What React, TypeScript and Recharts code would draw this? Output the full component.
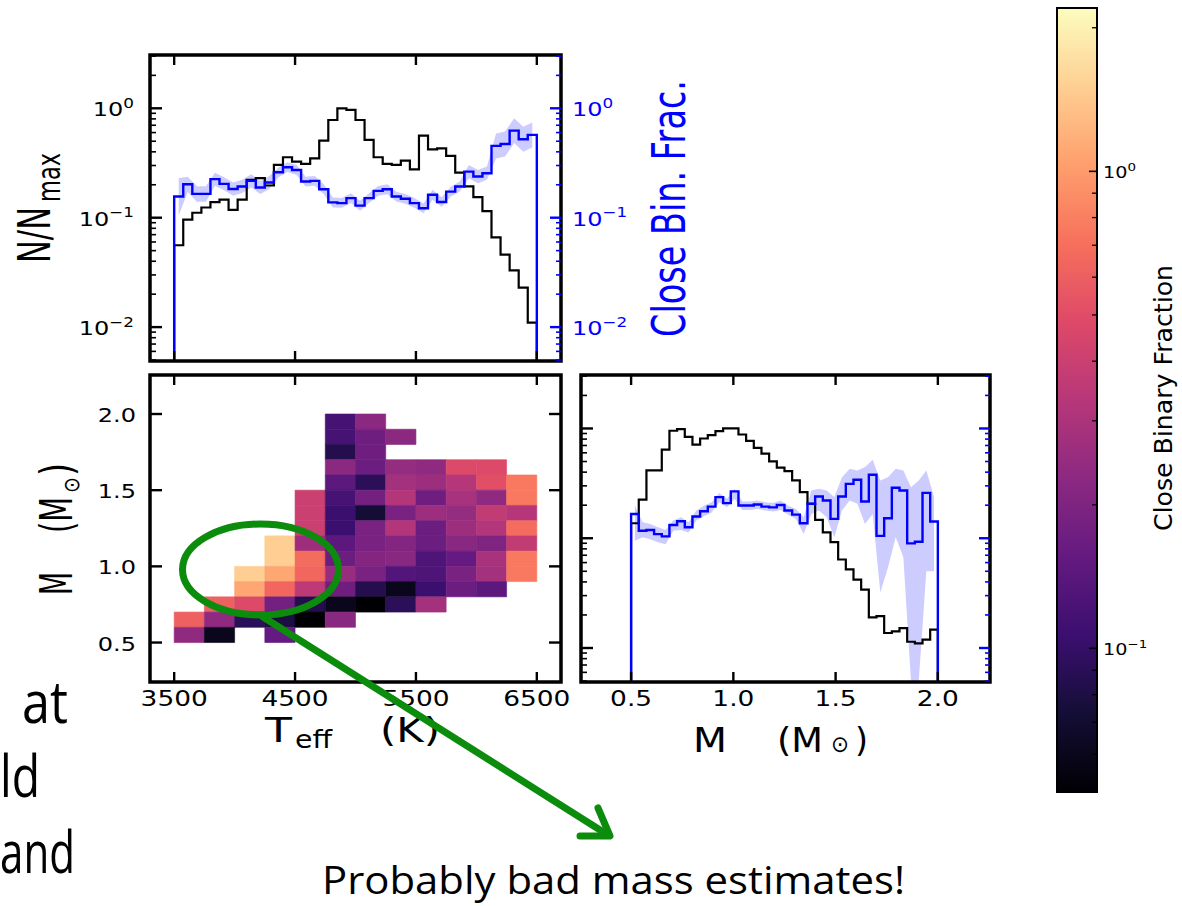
import React from "react";
import { ComposedChart, Line, Area, XAxis, YAxis, ReferenceArea } from "recharts";

const TICK_FONT = "'DejaVu Sans', 'Liberation Sans', sans-serif";
const SLIDE_FONT = "'Open Sans', 'Noto Sans', sans-serif";
const BLUE = "#0000ff";
const GREEN = "#0c8c0c";
const SX = 1.2; // the figure is stretched horizontally

// ---- top panel: Teff histogram, 40 bins of 75 K ----
const teffEdges = Array.from({ length: 41 }, (_, i) => 3500 + 75 * i);
const teffCentres = teffEdges.slice(0, 40).map((e) => e + 37.5);
const nTeff = [
  0.056, 0.096, 0.111, 0.124, 0.139, 0.146, 0.118, 0.146, 0.222, 0.23,
  0.197, 0.304, 0.357, 0.326, 0.31, 0.349, 0.507, 0.782, 1.0, 0.966,
  0.782, 0.514, 0.357, 0.31, 0.304, 0.333, 0.277, 0.563, 0.422, 0.431,
  0.367, 0.258, 0.193, 0.154, 0.115, 0.066, 0.046, 0.033, 0.023, 0.011,
];
const fTeff = [
  0.156, 0.202, 0.165, 0.165, 0.225, 0.204, 0.183, 0.193, 0.217, 0.189,
  0.21, 0.26, 0.289, 0.273, 0.214, 0.217, 0.182, 0.138, 0.136, 0.151,
  0.129, 0.151, 0.176, 0.182, 0.156, 0.149, 0.136, 0.122, 0.162, 0.139,
  0.173, 0.193, 0.264, 0.238, 0.255, 0.453, 0.472, 0.625, 0.521, 0.571,
];
const fTeffLo = [
  0.105, 0.172, 0.14, 0.14, 0.196, 0.178, 0.159, 0.168, 0.189, 0.165,
  0.183, 0.234, 0.261, 0.246, 0.193, 0.196, 0.164, 0.124, 0.123, 0.136,
  0.116, 0.136, 0.159, 0.164, 0.141, 0.134, 0.123, 0.11, 0.146, 0.125,
  0.156, 0.174, 0.23, 0.207, 0.222, 0.348, 0.363, 0.481, 0.401, 0.439,
];
const fTeffHi = [
  0.231, 0.237, 0.194, 0.194, 0.258, 0.234, 0.21, 0.222, 0.249, 0.217,
  0.241, 0.288, 0.321, 0.303, 0.237, 0.241, 0.202, 0.153, 0.151, 0.167,
  0.143, 0.167, 0.195, 0.202, 0.173, 0.165, 0.151, 0.135, 0.18, 0.154,
  0.192, 0.214, 0.303, 0.273, 0.293, 0.589, 0.614, 0.813, 0.677, 0.742,
];

// ---- right panel: mass histogram, 40 bins of 0.0375 Msun ----
const massEdges = Array.from({ length: 41 }, (_, i) => 0.5 + 0.0375 * i);
const massCentres = massEdges.slice(0, 40).map((e) => e + 0.01875);
const nMass = [
  0.137, 0.225, 0.415, 0.415, 0.642, 0.953, 0.986, 0.839, 0.713, 0.81,
  0.869, 0.946, 1.0, 1.0, 0.881, 0.771, 0.665, 0.59, 0.502, 0.439,
  0.409, 0.336, 0.263, 0.206, 0.147, 0.113, 0.092, 0.064, 0.052, 0.042,
  0.034, 0.019, 0.0195, 0.0137, 0.0142, 0.0152, 0.0114, 0.011, 0.0119, 0.0147,
];
const fMass = [
  0.166, 0.117, 0.119, 0.109, 0.104, 0.132, 0.143, 0.126, 0.158, 0.176,
  0.194, 0.237, 0.209, 0.267, 0.199, 0.199, 0.203, 0.194, 0.191, 0.201,
  0.179, 0.164, 0.137, 0.206, 0.24, 0.221, 0.15, 0.24, 0.313, 0.341,
  0.216, 0.379, 0.105, 0.152, 0.288, 0.272, 0.0897, 0.093, 0.259, 0.142,
];
const fMassLo = [
  0.095, 0.102, 0.098, 0.092, 0.088, 0.117, 0.119, 0.113, 0.145, 0.159,
  0.172, 0.213, 0.192, 0.229, 0.181, 0.181, 0.185, 0.179, 0.175, 0.181,
  0.164, 0.15, 0.109, 0.166, 0.179, 0.155, 0.102, 0.179, 0.221, 0.206,
  0.135, 0.166, 0.032, 0.054, 0.102, 0.067, 0.0049, 0.0049, 0.05, 0.05,
];
const fMassHi = [
  0.198, 0.14, 0.135, 0.126, 0.119, 0.145, 0.155, 0.14, 0.179, 0.198,
  0.213, 0.258, 0.229, 0.282, 0.216, 0.216, 0.221, 0.213, 0.209, 0.221,
  0.198, 0.185, 0.155, 0.272, 0.282, 0.272, 0.237, 0.36, 0.43, 0.415,
  0.445, 0.52, 0.336, 0.36, 0.43, 0.415, 0.292, 0.336, 0.415, 0.237,
];

// ---- heatmap: close binary fraction per (Teff, M) cell ----
const gridTeff = [3500, 3750, 4000, 4250, 4500, 4750, 5000, 5250, 5500, 5750, 6000, 6250, 6500];
const gridMass = [2.0, 1.9, 1.8, 1.7, 1.6, 1.5, 1.4, 1.3, 1.2, 1.1, 1.0, 0.9, 0.8, 0.7, 0.6, 0.5];
const _ = null;
const cbf: (number | null)[][] = [
  [_, _, _, _, _, 0.118, 0.226, _, _, _, _, _],
  [_, _, _, _, _, 0.118, 0.173, 0.226, _, _, _, _],
  [_, _, _, _, _, 0.085, 0.173, _, _, _, _, _],
  [_, _, _, _, _, 0.226, 0.167, 0.244, 0.235, 0.48, 0.48, _],
  [_, _, _, _, _, 0.144, 0.092, 0.28, 0.263, 0.33, 0.51, 0.76],
  [_, _, _, _, 0.4, 0.118, 0.18, 0.32, 0.173, 0.29, 0.235, 0.76],
  [_, _, _, _, 0.4, 0.106, 0.073, 0.19, 0.263, 0.244, 0.37, 0.33],
  [_, _, _, _, 0.4, 0.106, 0.19, 0.32, 0.167, 0.263, 0.32, 0.68],
  [_, _, _, 1.5, 0.263, 0.144, 0.19, 0.21, 0.167, 0.22, 0.2, 0.37],
  [_, _, _, 1.5, 0.68, 0.167, 0.21, 0.22, 0.128, 0.155, 0.29, 0.76],
  [_, _, 1.5, 1.1, 0.65, 0.253, 0.19, 0.133, 0.128, 0.19, 0.28, 0.76],
  [_, _, 1.1, 0.65, 0.35, 0.173, 0.085, 0.06, 0.106, 0.167, 0.144, _],
  [_, 0.61, 0.48, 0.18, 0.085, 0.06, 0.05, 0.092, 0.28, _, _, _],
  [0.61, 0.235, 0.092, 0.078, 0.05, 0.22, _, _, _, _, _, _],
  [0.235, 0.06, _, 0.155, _, _, _, _, _, _, _, _],
];

// ---- axes ----
const teffTicks = [3500, 4500, 5500, 6500];
const massTicks = [0.5, 1.0, 1.5, 2.0];
const histLogTicks = [
  0.005, 0.006, 0.007, 0.008, 0.009, 0.01, 0.02, 0.03, 0.04, 0.05, 0.06, 0.07, 0.08, 0.09,
  0.1, 0.2, 0.3, 0.4, 0.5, 0.6, 0.7, 0.8, 0.9, 1, 2, 3,
];
const cbarTicks = [0.06, 0.07, 0.08, 0.09, 0.1, 0.2, 0.3, 0.4, 0.5, 0.6, 0.7, 0.8, 0.9, 1, 2];
const TEFF_DOMAIN: [number, number] = [3300, 6700];
const MASS_Y_DOMAIN: [number, number] = [0.241, 2.256];
const MASS_X_DOMAIN: [number, number] = [0.255, 2.255];
const FRAC_DOMAIN: [number, number] = [0.0049, 3.07];
const CBAR_DOMAIN: [number, number] = [0.05, 2.2];

const MAGMA = ["#000004", "#140e36", "#3b0f70", "#641a80", "#8c2981", "#b73779", "#de4968", "#f7705c", "#fe9f6d", "#fecf92", "#fcfdbf"];

function rgb(h: string) {
  return [1, 3, 5].map((i) => parseInt(h.slice(i, i + 2), 16));
}
function magma(t: number) {
  const c = Math.min(1, Math.max(0, t)) * (MAGMA.length - 1);
  const i = Math.min(MAGMA.length - 2, Math.floor(c));
  const f = c - i;
  const a = rgb(MAGMA[i]);
  const b = rgb(MAGMA[i + 1]);
  return `rgb(${a.map((v, k) => Math.round(v + (b[k] - v) * f)).join(",")})`;
}
function cbfColor(v: number) {
  const lo = Math.log10(CBAR_DOMAIN[0]);
  const hi = Math.log10(CBAR_DOMAIN[1]);
  return magma((Math.log10(v) - lo) / (hi - lo));
}

const isDecade = (v: number) => Math.abs(Math.log10(v) - Math.round(Math.log10(v))) < 1e-6;
const logLabel = (fs: number) => (v: number) => {
  const e = Math.round(Math.log10(v));
  return (
    <>
      <tspan>10</tspan>
      <tspan dy={-fs * 0.42} fontSize={fs * 0.7}>{e < 0 ? `\u2212${-e}` : `${e}`}</tspan>
    </>
  );
};
const fixed1 = (v: number) => v.toFixed(1);
const plain = (v: number) => `${v}`;

type Side = "left" | "right" | "top" | "bottom";
type TickCfg = {
  side: Side;
  color?: string;
  isMajor?: (v: number) => boolean;
  label?: (v: number) => React.ReactNode;
  majorLen?: number;
  minorLen?: number;
  majorWidth?: number;
  minorWidth?: number;
  fontSize?: number;
  gap?: number;
};

// ticks point into the frame, labels sit outside
function makeTick(cfg: TickCfg) {
  const {
    side, color = "#000", isMajor = () => true, label, majorLen = 10, minorLen = 5,
    majorWidth = 2.4, minorWidth = 1.6, fontSize = 20, gap = 12,
  } = cfg;
  return (props: any) => {
    const x = Number(props.x);
    const y = Number(props.y);
    const v = Number(props.payload?.value);
    const major = isMajor(v);
    const len = major ? majorLen : minorLen;
    const [dx, dy] = side === "left" ? [1, 0] : side === "right" ? [-1, 0] : side === "top" ? [0, 1] : [0, -1];
    let text = null;
    if (major && label) {
      let tx = x;
      let ty = y;
      let anchor = "middle";
      if (side === "left") { tx = x - gap; ty = y + fontSize * 0.4; anchor = "end"; }
      else if (side === "right") { tx = x + gap; ty = y + fontSize * 0.4; anchor = "start"; }
      else if (side === "bottom") { ty = y + gap; }
      else { ty = y - gap; }
      text = (
        <text transform={`translate(${tx},${ty}) scale(${SX},1)`} textAnchor={anchor} fontSize={fontSize} fontFamily={TICK_FONT} fill={color}>
          {label(v)}
        </text>
      );
    }
    return (
      <g>
        <line x1={x} y1={y} x2={x + dx * len} y2={y + dy * len} stroke={color} strokeWidth={major ? majorWidth : minorWidth} />
        {text}
      </g>
    );
  };
}

function stepPoints(edges: number[], vals: number[]) {
  const floor = FRAC_DOMAIN[0];
  const n = vals.length;
  return [
    { x: edges[0], y: floor },
    ...vals.map((v, i) => ({ x: edges[i], y: v })),
    { x: edges[n], y: vals[n - 1] },
    { x: edges[n], y: floor },
  ];
}

const axisCommon = { tickSize: 0, tickMargin: 0, tickLine: false, axisLine: false, interval: 0 as const, allowDataOverflow: true };

function Frame({ x, y }: { x: [number, number]; y: [number, number] }) {
  return <ReferenceArea x1={x[0]} x2={x[1]} y1={y[0]} y2={y[1]} fill="none" stroke="#000" strokeWidth={3.5} ifOverflow="visible" />;
}

function Hist({ edges, centres, n, f, lo, hi, xDomain, xTicks, xLabel, width, height, margin, leftW, rightW, leftLabels, rightLabels }: any) {
  const band = centres.map((x: number, i: number) => ({ x, band: [lo[i], hi[i]] }));
  return (
    <ComposedChart width={width} height={height} margin={margin}>
      <XAxis type="number" dataKey="x" domain={xDomain} ticks={xTicks} height={xLabel ? 43 : 19} {...axisCommon}
        tick={makeTick({ side: "bottom", label: xLabel, fontSize: 22, gap: 24 })} />
      <XAxis xAxisId="t" orientation="top" type="number" dataKey="x" domain={xDomain} ticks={xTicks} height={10} {...axisCommon}
        tick={makeTick({ side: "top" })} />
      <YAxis type="number" scale="log" domain={FRAC_DOMAIN} ticks={histLogTicks} width={leftW} {...axisCommon}
        tick={makeTick({ side: "left", isMajor: isDecade, label: leftLabels ? logLabel(20) : undefined, majorLen: 12, minorLen: 6, gap: 16 })} />
      <YAxis yAxisId="r" orientation="right" type="number" scale="log" domain={FRAC_DOMAIN} ticks={histLogTicks} width={rightW} {...axisCommon}
        tick={makeTick({ side: "right", color: BLUE, isMajor: isDecade, label: rightLabels ? logLabel(20) : undefined, majorLen: 11, minorLen: 5, gap: 11 })} />
      <Area data={band} dataKey="band" type="linear" fill={BLUE} fillOpacity={0.2} stroke="none" isAnimationActive={false} />
      <Line data={stepPoints(edges, n)} dataKey="y" type="stepAfter" stroke="#000" strokeWidth={2.2} dot={false} isAnimationActive={false} />
      <Line data={stepPoints(edges, f)} dataKey="y" type="stepAfter" stroke={BLUE} strokeWidth={2.4} dot={false} isAnimationActive={false} />
      <Frame x={xDomain} y={FRAC_DOMAIN} />
    </ComposedChart>
  );
}

function Heatmap() {
  const cells: { x1: number; x2: number; y1: number; y2: number; v: number }[] = [];
  cbf.forEach((row, r) =>
    row.forEach((v, c) => {
      if (v !== null) cells.push({ x1: gridTeff[c], x2: gridTeff[c + 1], y1: gridMass[r + 1], y2: gridMass[r], v });
    })
  );
  return (
    <ComposedChart width={570} height={360} margin={{ top: 0, right: 0, bottom: 0, left: 0 }}>
      <XAxis type="number" dataKey="x" domain={TEFF_DOMAIN} ticks={teffTicks} height={43} {...axisCommon}
        tick={makeTick({ side: "bottom", label: plain, fontSize: 22, gap: 24 })} />
      <XAxis xAxisId="t" orientation="top" type="number" dataKey="x" domain={TEFF_DOMAIN} ticks={teffTicks} height={10} {...axisCommon}
        tick={makeTick({ side: "top" })} />
      <YAxis type="number" domain={MASS_Y_DOMAIN} ticks={massTicks} width={150} {...axisCommon}
        tick={makeTick({ side: "left", label: fixed1, majorLen: 12, gap: 14 })} />
      <YAxis yAxisId="r" orientation="right" type="number" domain={MASS_Y_DOMAIN} ticks={massTicks} width={9} {...axisCommon}
        tick={makeTick({ side: "right", majorLen: 12 })} />
      {cells.map((c, i) => (
        <ReferenceArea key={i} x1={c.x1} x2={c.x2} y1={c.y1} y2={c.y2} fill={cbfColor(c.v)} fillOpacity={1}
          stroke={cbfColor(c.v)} strokeWidth={0.6} ifOverflow="visible" />
      ))}
      <Frame x={TEFF_DOMAIN} y={MASS_Y_DOMAIN} />
    </ComposedChart>
  );
}

// colour scale: a single column drawn on a log axis
const cbarColumn = [{ x: 0, lo: CBAR_DOMAIN[0], hi: CBAR_DOMAIN[1] }, { x: 1, lo: CBAR_DOMAIN[0], hi: CBAR_DOMAIN[1] }];

function Colorbar() {
  const stops = [...MAGMA].reverse();
  return (
    <ComposedChart width={135} height={906} data={cbarColumn} margin={{ top: 8, right: 0, bottom: 114, left: 10 }}>
      <defs>
        <linearGradient id="magmaBar" x1="0" y1="0" x2="0" y2="1">
          {stops.map((c, i) => <stop key={i} offset={i / (stops.length - 1)} stopColor={c} />)}
        </linearGradient>
      </defs>
      <XAxis type="number" dataKey="x" domain={[0, 1]} height={0} tick={false} tickLine={false} axisLine={false} allowDataOverflow />
      <YAxis orientation="right" type="number" scale="log" domain={CBAR_DOMAIN} ticks={cbarTicks} width={85} {...axisCommon}
        tick={makeTick({ side: "right", isMajor: isDecade, label: logLabel(16), majorLen: 8, minorLen: 5, majorWidth: 1.6, minorWidth: 1.3, fontSize: 16, gap: 6 })} />
      <Area dataKey={(d: any) => [d.lo, d.hi]} type="linear" fill="url(#magmaBar)" fillOpacity={1} stroke="none" isAnimationActive={false} />
      <ReferenceArea x1={0} x2={1} y1={CBAR_DOMAIN[0]} y2={CBAR_DOMAIN[1]} fill="none" stroke="#000" strokeWidth={2} ifOverflow="visible" />
    </ComposedChart>
  );
}

// rotated label: x = baseline, y = start; k widens the glyphs across the page
function VText({ x, y, size, len, k = 1, color = "#000", font = TICK_FONT, children }: any) {
  return (
    <text transform={`translate(${x},${y}) scale(${k},1) rotate(-90)`} fontSize={size / k} fontFamily={font} fill={color}
      textLength={len} lengthAdjust="spacingAndGlyphs">{children}</text>
  );
}
function HText({ x, y, size, len, color = "#000", font = TICK_FONT, children }: any) {
  return (
    <text x={x} y={y} fontSize={size} fontFamily={font} fill={color} textLength={len} lengthAdjust="spacingAndGlyphs">{children}</text>
  );
}

function Overlay() {
  return (
    <svg width={1182} height={906} style={{ position: "absolute", left: 0, top: 0, pointerEvents: "none" }}>
      {/* axis titles */}
      <VText x={50} y={263} size={45} k={1.48} len={56}>N/N</VText>
      <VText x={60} y={202} size={32} k={1.42} len={49}>max</VText>
      <VText x={72} y={595} size={44} k={1.65} len={23}>M</VText>
      <VText x={72} y={533} size={45} k={1.57} len={36}>(M</VText>
      <VText x={79} y={493} size={22} len={16}>⊙</VText>
      <VText x={72} y={476} size={45} k={1.36} len={13}>)</VText>
      <VText x={685} y={337} size={46} k={1.5} len={257} color={BLUE}>Close Bin. Frac.</VText>
      <VText x={1172} y={531} size={25} len={266}>Close Binary Fraction</VText>
      <HText x={265} y={742} size={33} len={27}>T</HText>
      <HText x={295} y={748} size={24} len={37}>eff</HText>
      <HText x={380} y={742} size={33} len={60}>(K)</HText>
      <HText x={693} y={752} size={33} len={34}>M</HText>
      <HText x={777} y={752} size={33} len={46}>(M</HText>
      <HText x={831} y={752} size={23} len={18}>⊙</HText>
      <HText x={855} y={752} size={33} len={13}>)</HText>
      {/* slide text around the figure */}
      <HText x={22} y={723} size={58} len={46} font={SLIDE_FONT}>at</HText>
      <HText x={0} y={797} size={58} len={40} font={SLIDE_FONT}>ld</HText>
      <HText x={0} y={873} size={58} len={75} font={SLIDE_FONT}>and</HText>
      <HText x={322} y={894} size={38} len={583} font={SLIDE_FONT}>Probably bad mass estimates!</HText>
      {/* annotation */}
      <ellipse cx={260.5} cy={569.5} rx={78} ry={45.5} fill="none" stroke={GREEN} strokeWidth={7} />
      <g stroke={GREEN} strokeWidth={7} strokeLinecap="round" fill="none">
        <line x1={263} y1={617} x2={608} y2={835} />
        <polyline points="598,808 610,836 580,836" strokeLinejoin="round" />
      </g>
    </svg>
  );
}

export default function App() {
  return (
    <div style={{ position: "absolute", left: 0, top: 0, width: 1182, height: 906, overflow: "hidden", background: "#fff" }}>
      <div style={{ position: "absolute", left: 0, top: 0 }}>
        <Hist edges={teffEdges} centres={teffCentres} n={nTeff} f={fTeff} lo={fTeffLo} hi={fTeffHi}
          xDomain={TEFF_DOMAIN} xTicks={teffTicks} width={720} height={380}
          margin={{ top: 45, right: 0, bottom: 0, left: 0 }} leftW={150} rightW={159} leftLabels rightLabels />
      </div>
      <div style={{ position: "absolute", left: 0, top: 365 }}>
        <Heatmap />
      </div>
      <div style={{ position: "absolute", left: 571, top: 365 }}>
        <Hist edges={massEdges} centres={massCentres} n={nMass} f={fMass} lo={fMassLo} hi={fMassHi}
          xDomain={MASS_X_DOMAIN} xTicks={massTicks} xLabel={fixed1} width={439} height={360}
          margin={{ top: 0, right: 0, bottom: 0, left: 0 }} leftW={10} rightW={20} />
      </div>
      <div style={{ position: "absolute", left: 1047, top: 0 }}>
        <Colorbar />
      </div>
      <Overlay />
    </div>
  );
}
